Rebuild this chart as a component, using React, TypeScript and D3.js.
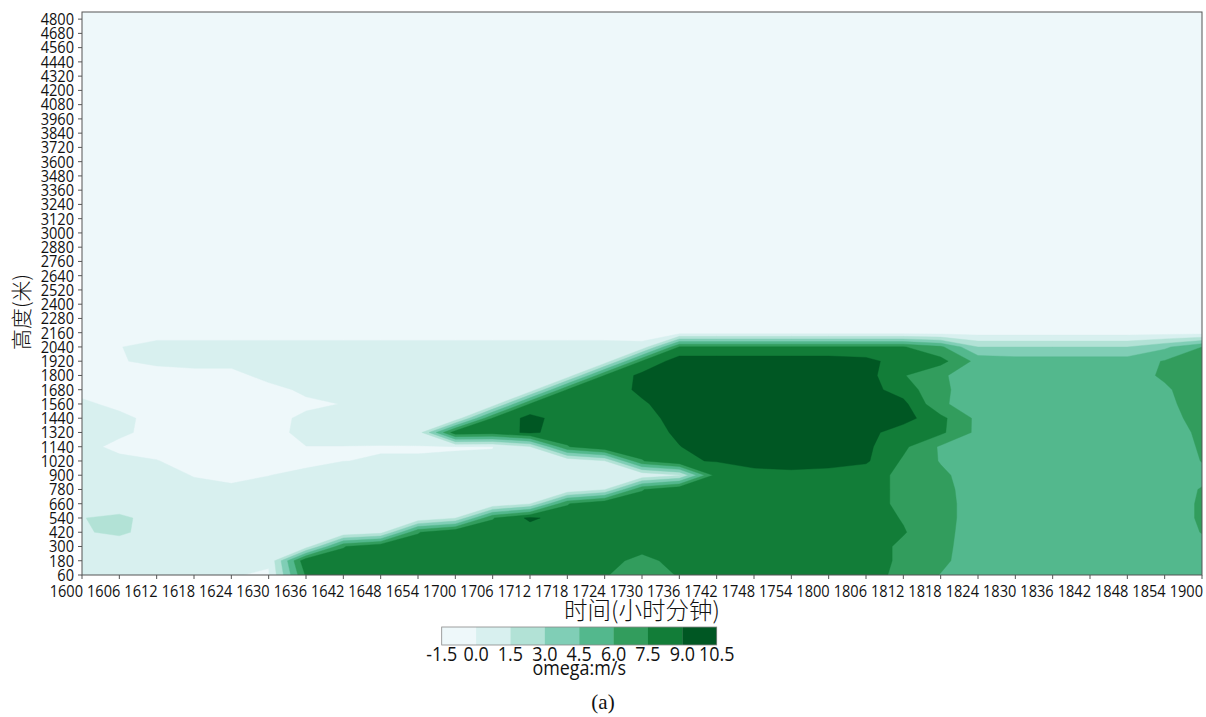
import React from 'react';
import * as d3 from 'd3';

const TIME_LABELS = ['1600','1606','1612','1618','1624','1630','1636','1642','1648','1654','1700','1706','1712','1718','1724','1730','1736','1742','1748','1754','1800','1806','1812','1818','1824','1830','1836','1842','1848','1854','1900'];
const HEIGHT_LABELS = ['60','180','300','420','540','660','780','900','1020','1140','1320','1440','1560','1680','1800','1920','2040','2160','2280','2400','2520','2640','2760','2880','3000','3120','3240','3360','3480','3600','3720','3840','3960','4080','4200','4320','4440','4560','4680','4800'];
const LEVELS = [-1.5, 0, 1.5, 3, 4.5, 6, 7.5, 9, 10.5];
const LEVEL_COLORS = ['#eef8fa', '#d8f0ef', '#b2e2d6', '#80ceb6', '#53b88d', '#329d5d', '#127d38', '#005723'];

// omega (m/s): one string per height row (60 m first), one value per time column (1600 ... 1900)
const OMEGA_ROWS = [
  '0.5 0.5 0.5 0.5 0.05 -0.1 7.7 8.2 8.2 8.2 8.2 8.2 8.2 8.2 7.6 6.8 7.6 8.2 8.2 8.2 8.2 8.2 7.0 5.95 5.2 5.2 5.2 5.2 5.2 5.2 5.5',
  '0.5 0.5 0.5 0.5 0.5 0.12 8.8 8.2 8.2 8.2 8.2 8.2 8.2 8.2 8.2 6.9 8.2 8.2 8.2 8.2 8.2 8.2 7.2 6.3 5.2 5.2 5.2 5.2 5.2 5.2 5.5',
  '0.6 0.6 0.5 0.5 0.5 0.5 0.7 7.4 8.8 8.2 8.2 8.2 8.2 8.2 8.2 8.2 8.2 8.2 8.2 8.2 8.2 8.2 7.2 6.4 5.2 5.2 5.2 5.2 5.2 5.2 5.6',
  '1.35 1.8 0.8 0.6 0.5 0.5 0.5 0.1 0.9 7.4 8.9 8.2 8.2 8.2 8.2 8.2 8.2 8.2 8.2 8.2 8.2 8.2 7.6 6.5 5.2 5.2 5.2 5.2 5.2 5.2 6.05',
  '1.45 1.9 0.8 0.6 0.5 0.5 0.5 0.5 0.5 0.1 1.4 7.4 9.3 8.2 8.2 8.2 8.2 8.2 8.2 8.2 8.2 8.2 7.4 6.6 5.2 5.2 5.2 5.2 5.2 5.2 6.2',
  '0.6 0.4 0.5 0.5 0.5 0.5 0.5 0.5 0.5 0.5 0.5 0.1 1.4 7.4 8.9 8.2 8.2 8.2 8.2 8.2 8.2 8.2 7.1 6.6 5.2 5.2 5.2 5.2 5.2 5.2 6.2',
  '0.5 0.5 0.5 0.3 0.3 0.4 0.5 0.5 0.5 0.5 0.5 0.5 0.5 0.1 1.4 7.4 8.9 8.2 8.2 8.2 8.2 8.2 7.1 6.5 5.2 5.2 5.2 5.2 5.2 5.2 6.1',
  '0.5 0.5 0.4 -0.05 -0.4 -0.02 0.3 0.5 0.5 0.5 0.5 0.5 0.5 0.5 0.5 0.2 1.4 8.2 8.2 8.5 8.2 8.2 7.1 6.3 5.2 5.2 5.2 5.2 5.2 5.0 5.6',
  '0.5 0.4 0.05 -0.5 -0.5 -0.5 -0.3 -0.01 0.05 0.05 0.07 0.1 0.5 0.2 1.4 7.4 8.9 9.05 9.8 9.8 9.8 9.2 7.3 5.9 5.2 5.2 5.2 5.2 5.2 5.0 6.05',
  '0.5 -0.4 -0.5 -0.5 -0.5 -0.5 -0.02 -0.02 -0.05 -0.05 -0.03 -0.02 1.4 7.4 8.9 8.2 8.95 9.8 9.8 9.8 9.8 9.3 7.8 5.8 5.2 5.2 5.2 5.2 5.2 5.0 6.2',
  '0.5 0.3 -0.5 -0.5 -0.5 -0.5 0.4 0.4 0.5 0.7 8.5 8.2 9.3 8.2 8.2 8.2 9.3 9.8 9.8 9.8 9.8 9.5 8.2 7.8 5.6 5.2 5.2 5.2 5.2 5.0 6.4',
  '0.5 0.4 -0.5 -0.5 -0.5 -0.5 0.3 0.5 0.5 0.5 0.3 7.6 9.5 8.2 8.2 8.2 9.8 9.8 9.8 9.8 9.8 9.6 9.6 7.9 5.6 5.2 5.2 5.2 5.2 5.2 6.8',
  '0.3 -0.4 -0.5 -0.5 -0.5 -0.5 -0.3 0.05 0.5 0.5 0.5 0.4 7.6 8.2 8.2 8.8 9.8 9.8 9.8 9.8 9.8 9.6 9.4 6.23 5.2 5.2 5.2 5.2 5.2 5.6 6.8',
  '-0.5 -0.5 -0.5 -0.5 -0.5 -0.5 0.3 0.5 0.5 0.5 0.5 0.5 0.4 7.6 8.2 9.3 9.8 9.8 9.8 9.8 9.8 9.6 8.3 6.3 5.2 5.2 5.2 5.2 5.2 5.8 6.8',
  '-0.5 -0.5 -0.6 -0.5 -0.5 0.5 0.5 0.5 0.5 0.5 0.5 0.5 0.5 0.4 7.6 9.4 9.8 9.8 9.8 9.8 9.8 9.6 7.6 6.2 5.2 5.2 5.2 5.2 5.4 6.2 6.8',
  '-0.5 -0.1 0.3 0.5 0.5 0.5 0.5 0.5 0.5 0.5 0.5 0.5 0.5 0.5 0.4 7.6 9.8 9.8 9.8 9.8 9.8 9.5 8.2 8.0 5.5 5.2 5.2 5.2 5.2 6.1 6.8',
  '-0.5 -0.05 0.5 0.5 0.5 0.5 0.5 0.5 0.5 0.5 0.5 0.5 0.5 0.5 0.5 0.4 7.6 7.6 7.6 7.6 7.6 7.6 7.6 6.3 3.0 3.0 3.0 3.0 3.0 4.2 6.0',
  '-0.6 -0.6 -0.6 -0.6 -0.6 -0.6 -0.6 -0.6 -0.6 -0.6 -0.6 -0.6 -0.6 -0.6 -0.6 -0.6 -0.6 -0.6 -0.6 -0.6 -0.6 -0.6 -0.6 -0.6 -0.6 -0.6 -0.6 -0.6 -0.6 -0.6 -0.6',
  '-0.6 -0.6 -0.6 -0.6 -0.6 -0.6 -0.6 -0.6 -0.6 -0.6 -0.6 -0.6 -0.6 -0.6 -0.6 -0.6 -0.6 -0.6 -0.6 -0.6 -0.6 -0.6 -0.6 -0.6 -0.6 -0.6 -0.6 -0.6 -0.6 -0.6 -0.6',
  '-0.6 -0.6 -0.6 -0.6 -0.6 -0.6 -0.6 -0.6 -0.6 -0.6 -0.6 -0.6 -0.6 -0.6 -0.6 -0.6 -0.6 -0.6 -0.6 -0.6 -0.6 -0.6 -0.6 -0.6 -0.6 -0.6 -0.6 -0.6 -0.6 -0.6 -0.6',
  '-0.6 -0.6 -0.6 -0.6 -0.6 -0.6 -0.6 -0.6 -0.6 -0.6 -0.6 -0.6 -0.6 -0.6 -0.6 -0.6 -0.6 -0.6 -0.6 -0.6 -0.6 -0.6 -0.6 -0.6 -0.6 -0.6 -0.6 -0.6 -0.6 -0.6 -0.6',
  '-0.6 -0.6 -0.6 -0.6 -0.6 -0.6 -0.6 -0.6 -0.6 -0.6 -0.6 -0.6 -0.6 -0.6 -0.6 -0.6 -0.6 -0.6 -0.6 -0.6 -0.6 -0.6 -0.6 -0.6 -0.6 -0.6 -0.6 -0.6 -0.6 -0.6 -0.6',
  '-0.6 -0.6 -0.6 -0.6 -0.6 -0.6 -0.6 -0.6 -0.6 -0.6 -0.6 -0.6 -0.6 -0.6 -0.6 -0.6 -0.6 -0.6 -0.6 -0.6 -0.6 -0.6 -0.6 -0.6 -0.6 -0.6 -0.6 -0.6 -0.6 -0.6 -0.6',
  '-0.6 -0.6 -0.6 -0.6 -0.6 -0.6 -0.6 -0.6 -0.6 -0.6 -0.6 -0.6 -0.6 -0.6 -0.6 -0.6 -0.6 -0.6 -0.6 -0.6 -0.6 -0.6 -0.6 -0.6 -0.6 -0.6 -0.6 -0.6 -0.6 -0.6 -0.6',
  '-0.6 -0.6 -0.6 -0.6 -0.6 -0.6 -0.6 -0.6 -0.6 -0.6 -0.6 -0.6 -0.6 -0.6 -0.6 -0.6 -0.6 -0.6 -0.6 -0.6 -0.6 -0.6 -0.6 -0.6 -0.6 -0.6 -0.6 -0.6 -0.6 -0.6 -0.6',
  '-0.6 -0.6 -0.6 -0.6 -0.6 -0.6 -0.6 -0.6 -0.6 -0.6 -0.6 -0.6 -0.6 -0.6 -0.6 -0.6 -0.6 -0.6 -0.6 -0.6 -0.6 -0.6 -0.6 -0.6 -0.6 -0.6 -0.6 -0.6 -0.6 -0.6 -0.6',
  '-0.6 -0.6 -0.6 -0.6 -0.6 -0.6 -0.6 -0.6 -0.6 -0.6 -0.6 -0.6 -0.6 -0.6 -0.6 -0.6 -0.6 -0.6 -0.6 -0.6 -0.6 -0.6 -0.6 -0.6 -0.6 -0.6 -0.6 -0.6 -0.6 -0.6 -0.6',
  '-0.6 -0.6 -0.6 -0.6 -0.6 -0.6 -0.6 -0.6 -0.6 -0.6 -0.6 -0.6 -0.6 -0.6 -0.6 -0.6 -0.6 -0.6 -0.6 -0.6 -0.6 -0.6 -0.6 -0.6 -0.6 -0.6 -0.6 -0.6 -0.6 -0.6 -0.6',
  '-0.6 -0.6 -0.6 -0.6 -0.6 -0.6 -0.6 -0.6 -0.6 -0.6 -0.6 -0.6 -0.6 -0.6 -0.6 -0.6 -0.6 -0.6 -0.6 -0.6 -0.6 -0.6 -0.6 -0.6 -0.6 -0.6 -0.6 -0.6 -0.6 -0.6 -0.6',
  '-0.6 -0.6 -0.6 -0.6 -0.6 -0.6 -0.6 -0.6 -0.6 -0.6 -0.6 -0.6 -0.6 -0.6 -0.6 -0.6 -0.6 -0.6 -0.6 -0.6 -0.6 -0.6 -0.6 -0.6 -0.6 -0.6 -0.6 -0.6 -0.6 -0.6 -0.6',
  '-0.6 -0.6 -0.6 -0.6 -0.6 -0.6 -0.6 -0.6 -0.6 -0.6 -0.6 -0.6 -0.6 -0.6 -0.6 -0.6 -0.6 -0.6 -0.6 -0.6 -0.6 -0.6 -0.6 -0.6 -0.6 -0.6 -0.6 -0.6 -0.6 -0.6 -0.6',
  '-0.6 -0.6 -0.6 -0.6 -0.6 -0.6 -0.6 -0.6 -0.6 -0.6 -0.6 -0.6 -0.6 -0.6 -0.6 -0.6 -0.6 -0.6 -0.6 -0.6 -0.6 -0.6 -0.6 -0.6 -0.6 -0.6 -0.6 -0.6 -0.6 -0.6 -0.6',
  '-0.6 -0.6 -0.6 -0.6 -0.6 -0.6 -0.6 -0.6 -0.6 -0.6 -0.6 -0.6 -0.6 -0.6 -0.6 -0.6 -0.6 -0.6 -0.6 -0.6 -0.6 -0.6 -0.6 -0.6 -0.6 -0.6 -0.6 -0.6 -0.6 -0.6 -0.6',
  '-0.6 -0.6 -0.6 -0.6 -0.6 -0.6 -0.6 -0.6 -0.6 -0.6 -0.6 -0.6 -0.6 -0.6 -0.6 -0.6 -0.6 -0.6 -0.6 -0.6 -0.6 -0.6 -0.6 -0.6 -0.6 -0.6 -0.6 -0.6 -0.6 -0.6 -0.6',
  '-0.6 -0.6 -0.6 -0.6 -0.6 -0.6 -0.6 -0.6 -0.6 -0.6 -0.6 -0.6 -0.6 -0.6 -0.6 -0.6 -0.6 -0.6 -0.6 -0.6 -0.6 -0.6 -0.6 -0.6 -0.6 -0.6 -0.6 -0.6 -0.6 -0.6 -0.6',
  '-0.6 -0.6 -0.6 -0.6 -0.6 -0.6 -0.6 -0.6 -0.6 -0.6 -0.6 -0.6 -0.6 -0.6 -0.6 -0.6 -0.6 -0.6 -0.6 -0.6 -0.6 -0.6 -0.6 -0.6 -0.6 -0.6 -0.6 -0.6 -0.6 -0.6 -0.6',
  '-0.6 -0.6 -0.6 -0.6 -0.6 -0.6 -0.6 -0.6 -0.6 -0.6 -0.6 -0.6 -0.6 -0.6 -0.6 -0.6 -0.6 -0.6 -0.6 -0.6 -0.6 -0.6 -0.6 -0.6 -0.6 -0.6 -0.6 -0.6 -0.6 -0.6 -0.6',
  '-0.6 -0.6 -0.6 -0.6 -0.6 -0.6 -0.6 -0.6 -0.6 -0.6 -0.6 -0.6 -0.6 -0.6 -0.6 -0.6 -0.6 -0.6 -0.6 -0.6 -0.6 -0.6 -0.6 -0.6 -0.6 -0.6 -0.6 -0.6 -0.6 -0.6 -0.6',
  '-0.6 -0.6 -0.6 -0.6 -0.6 -0.6 -0.6 -0.6 -0.6 -0.6 -0.6 -0.6 -0.6 -0.6 -0.6 -0.6 -0.6 -0.6 -0.6 -0.6 -0.6 -0.6 -0.6 -0.6 -0.6 -0.6 -0.6 -0.6 -0.6 -0.6 -0.6',
  '-0.6 -0.6 -0.6 -0.6 -0.6 -0.6 -0.6 -0.6 -0.6 -0.6 -0.6 -0.6 -0.6 -0.6 -0.6 -0.6 -0.6 -0.6 -0.6 -0.6 -0.6 -0.6 -0.6 -0.6 -0.6 -0.6 -0.6 -0.6 -0.6 -0.6 -0.6',
];

const W = 1206;
const H = 717;
const PLOT = { left: 82, right: 1202, top: 12, bottom: 575 };
const CBAR = { left: 441.7, right: 716.7, top: 627, bottom: 645 };
const TICK_FONT = "'Open Sans', 'Liberation Sans', sans-serif";
const CJK_FONT = "'Noto Sans CJK SC', 'Noto Sans', sans-serif";

export default function App() {
  const nx = TIME_LABELS.length;
  const ny = HEIGHT_LABELS.length;
  const x = d3.scaleLinear().domain([0, nx - 1]).range([PLOT.left, PLOT.right]);
  const y = d3.scaleLinear().domain([0, ny - 0.5]).range([PLOT.bottom, PLOT.top]);

  const values = OMEGA_ROWS.flatMap((row) => row.trim().split(/\s+/).map(Number));
  const contours = d3.contours().size([nx, ny]).thresholds(LEVELS.slice(0, -1))(values);
  const proj = d3.geoTransform({
    point: function (px: number, py: number) {
      (this as any).stream.point(x(px - 0.5), y(py - 0.5));
    },
  });
  const path = d3.geoPath(proj as any);

  const cb = d3.scaleLinear().domain([LEVELS[0], LEVELS[LEVELS.length - 1]]).range([CBAR.left, CBAR.right]);
  const axisColor = '#555';

  return (
    <svg width={W} height={H} style={{ position: 'absolute', left: 0, top: 0, background: '#fff' }}>
      <defs>
        <clipPath id="plotClip">
          <rect x={PLOT.left} y={PLOT.top} width={PLOT.right - PLOT.left} height={PLOT.bottom - PLOT.top} />
        </clipPath>
      </defs>
      <rect x={0} y={0} width={W} height={H} fill="#fff" />
      <g clipPath="url(#plotClip)">
        <rect x={PLOT.left} y={PLOT.top} width={PLOT.right - PLOT.left} height={PLOT.bottom - PLOT.top} fill={LEVEL_COLORS[0]} />
        {contours.map((c, i) => (
          <path key={i} d={path(c as any) || ''} fill={LEVEL_COLORS[i]} stroke={LEVEL_COLORS[i]} strokeWidth={0.4} />
        ))}
      </g>
      <rect x={PLOT.left} y={PLOT.top} width={PLOT.right - PLOT.left} height={PLOT.bottom - PLOT.top} fill="none" stroke={axisColor} strokeWidth={1} />

      {/* y axis */}
      {HEIGHT_LABELS.map((lab, i) => (
        <g key={lab}>
          <line x1={PLOT.left - 4} x2={PLOT.left} y1={y(i)} y2={y(i)} stroke={axisColor} strokeWidth={1} />
          <text transform={`translate(${PLOT.left - 8},${y(i)}) scale(0.9,1)`} dy="0.36em" textAnchor="end" fontFamily={TICK_FONT} fontSize={16.2} fill="#111">{lab}</text>
        </g>
      ))}
      {/* x axis */}
      {TIME_LABELS.map((lab, i) => (
        <g key={lab}>
          <line x1={x(i)} x2={x(i)} y1={PLOT.bottom} y2={PLOT.bottom + 4} stroke={axisColor} strokeWidth={1} />
          <text transform={`translate(${x(i) + 1},597) scale(0.9,1)`} textAnchor="end" fontFamily={TICK_FONT} fontSize={16.2} fill="#111">{lab}</text>
        </g>
      ))}

      <text x={(PLOT.left + PLOT.right) / 2} y={619} textAnchor="middle" fontFamily={CJK_FONT} fontWeight={300} fontSize={23.5} fill="#111">时间(小时分钟)</text>
      <text transform={`translate(29,312) rotate(-90)`} textAnchor="middle" fontFamily={CJK_FONT} fontWeight={300} fontSize={21} fill="#111">高度(米)</text>

      {/* colorbar */}
      {LEVEL_COLORS.map((col, i) => (
        <rect key={col} x={cb(LEVELS[i])} y={CBAR.top} width={cb(LEVELS[i + 1]) - cb(LEVELS[i]) + 0.3} height={CBAR.bottom - CBAR.top} fill={col} />
      ))}
      <rect x={CBAR.left} y={CBAR.top} width={CBAR.right - CBAR.left} height={CBAR.bottom - CBAR.top} fill="none" stroke="#888" strokeWidth={0.8} />
      {LEVELS.map((lv) => (
        <text key={lv} transform={`translate(${cb(lv)},661) scale(0.92,1)`} textAnchor="middle" fontFamily={TICK_FONT} fontSize={19.5} fill="#111">{lv.toFixed(1)}</text>
      ))}
      <text transform={`translate(${(CBAR.left + CBAR.right) / 2},675) scale(0.92,1)`} textAnchor="middle" fontFamily={TICK_FONT} fontSize={19.5} fill="#111">omega:m/s</text>

      <text x={W / 2} y={709} textAnchor="middle" fontFamily="'Liberation Serif', 'Times New Roman', serif" fontSize={21} fill="#111">(a)</text>
    </svg>
  );
}
